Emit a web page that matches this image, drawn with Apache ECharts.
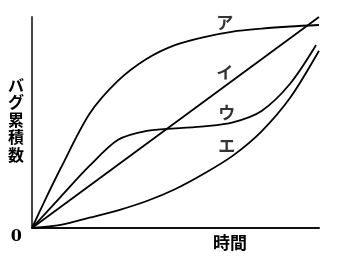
<!DOCTYPE html>
<html><head><meta charset="utf-8">
<script src="https://cdn.jsdelivr.net/npm/echarts@6/dist/echarts.min.js"></script>
<style>html,body{margin:0;padding:0;background:#fff}#c{width:337px;height:265px}</style>
</head><body><div id="c"></div>
<script>
// Series names / curve labels
const seriesNames = ['ア', 'イ', 'ウ', 'エ'];
// Series values as [time, cumulative bugs] (0-100 relative scale)
const curveA = [[0,0],[5,14.5],[10,28.3],[20,54],[30,69.8],[40,80.2],[50,86.8],[60,90.5],[70,93.1],[80,94.5],[90,95.5],[100,96.2]];
const curveI = [[0,0],[100,100]];
const curveU = [[0,0],[10,14.8],[20,29.4],[30,41.8],[40,46.0],[50,47.2],[60,48.2],[70,50.1],[80,55.5],[90,68.5],[99,86.7]];
const curveE = [[0,0],[10,1.5],[20,4.9],[30,8.4],[40,12.8],[50,18.5],[60,25.8],[70,34.3],[80,45.8],[90,61.8],[100,84]];
// Label anchor points for curve names (data coords)
const labelPoints = [[67.2,97.2],[67.2,73.9],[67.9,54.5],[67.9,39.3]];
// Axis texts
const yAxisTitle = 'バグ累積数';
const xAxisTitle = '時間';
const yTickLabels = ['0'];

const chart = echarts.init(document.getElementById('c'));
const lineStyle = {color:'#000', width:1.8};
const mk = (name, data) => ({type:'line', name, data, smooth:0.3, showSymbol:false, symbol:'none', lineStyle, z:3});
chart.setOption({
  animation:false,
  grid:{left:32, top:17, right:18, bottom:37},
  xAxis:{type:'value', min:0, max:100, axisLine:{show:true, lineStyle:{color:'#111', width:2}}, axisTick:{show:false}, axisLabel:{show:false}, splitLine:{show:false}},
  yAxis:{type:'value', min:0, max:100, interval:100, axisLine:{show:true, lineStyle:{color:'#444', width:2}}, axisTick:{show:false},
    axisLabel:{show:true, formatter:v=> v===0 ? yTickLabels[0] : '', color:'#000', fontSize:16, fontWeight:'bold', fontFamily:'DejaVu Serif', margin:10, verticalAlign:'top', padding:[1,0,0,0]},
    splitLine:{show:false}},
  series:[
    mk(seriesNames[0], curveA), mk(seriesNames[1], curveI), mk(seriesNames[2], curveU), mk(seriesNames[3], curveE),
    {type:'scatter', symbolSize:0, data: labelPoints.map((p,i)=>({value:p, name:seriesNames[i]})),
     label:{show:true, position:'inside', formatter:p=>p.name, color:'#000', fontSize:17, fontWeight:'bold', fontFamily:'Noto Sans CJK JP'}, z:4}
  ],
  graphic:[
    {type:'text', left:8, top:76, style:{text:yAxisTitle.split('').join('\n'), fontSize:16, fontWeight:'bold', fontFamily:'Noto Sans CJK JP', fill:'#000', lineHeight:17.5}},
    {type:'text', left:213, top:234, style:{text:xAxisTitle, fontSize:17, fontWeight:'bold', fontFamily:'Noto Sans CJK JP', fill:'#000'}}
  ]
});
</script></body></html>
